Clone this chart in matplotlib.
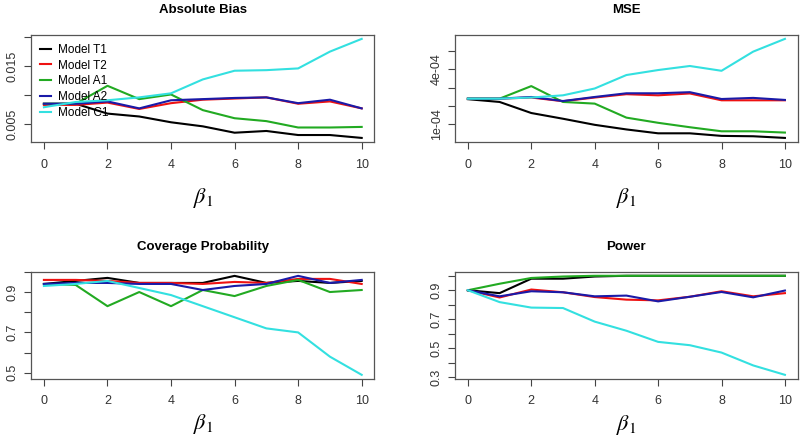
import numpy as np
import matplotlib
matplotlib.use('Agg')
from matplotlib import pyplot as plt

plt.rcParams['font.family'] = ['Liberation Sans Narrow', 'Liberation Sans', 'DejaVu Sans']
plt.rcParams['mathtext.fontset'] = 'stix'

# beta_1 values on the x axis
beta1 = [0, 1, 2, 3, 4, 5, 6, 7, 8, 9, 10]

models = ['Model T1', 'Model T2', 'Model A1', 'Model A2', 'Model C1']
colors = ['black', '#ee1111', '#22aa22', '#1a1aa8', '#33e0e0']

# absolute bias
bias_t1 = [0.0085, 0.0085, 0.0068, 0.0063, 0.0053, 0.0046, 0.0035, 0.0038, 0.0031, 0.0031, 0.0026]
bias_t2 = [0.0083, 0.0083, 0.0087, 0.0076, 0.0086, 0.0092, 0.0094, 0.0096, 0.0085, 0.0089, 0.0077]
bias_a1 = [0.0085, 0.0085, 0.0116, 0.0093, 0.0101, 0.0074, 0.0060, 0.0055, 0.0044, 0.0044, 0.0045]
bias_a2 = [0.0085, 0.0085, 0.0089, 0.0077, 0.0091, 0.0093, 0.0095, 0.0096, 0.0086, 0.0092, 0.0077]
bias_c1 = [0.0079, 0.0088, 0.0091, 0.0096, 0.0103, 0.0127, 0.0142, 0.0143, 0.0146, 0.0175, 0.0197]

# mse (x 1e-4)
mse_t1 = [2.37, 2.22, 1.62, 1.31, 0.98, 0.73, 0.52, 0.52, 0.38, 0.36, 0.27]
mse_t2 = [2.40, 2.40, 2.46, 2.26, 2.46, 2.64, 2.58, 2.68, 2.31, 2.31, 2.31]
mse_a1 = [2.40, 2.40, 3.08, 2.22, 2.13, 1.37, 1.09, 0.85, 0.63, 0.63, 0.56]
mse_a2 = [2.40, 2.40, 2.49, 2.27, 2.49, 2.69, 2.69, 2.75, 2.38, 2.44, 2.33]
mse_c1 = [2.40, 2.40, 2.46, 2.58, 2.95, 3.68, 3.95, 4.17, 3.91, 4.95, 5.64]

# coverage probability
cp_t1 = [0.94, 0.955, 0.97, 0.945, 0.945, 0.945, 0.98, 0.945, 0.955, 0.945, 0.955]
cp_t2 = [0.96, 0.96, 0.955, 0.945, 0.945, 0.94, 0.95, 0.945, 0.965, 0.965, 0.94]
cp_a1 = [0.94, 0.935, 0.83, 0.90, 0.83, 0.91, 0.88, 0.93, 0.96, 0.90, 0.91]
cp_a2 = [0.94, 0.945, 0.945, 0.94, 0.94, 0.91, 0.93, 0.94, 0.98, 0.945, 0.96]
cp_c1 = [0.93, 0.94, 0.955, 0.92, 0.885, 0.83, 0.775, 0.72, 0.70, 0.58, 0.49]

# power
pw_t1 = [0.90, 0.88, 0.98, 0.98, 0.995, 1.0, 1.0, 1.0, 1.0, 1.0, 1.0]
pw_t2 = [0.90, 0.85, 0.905, 0.886, 0.853, 0.835, 0.83, 0.855, 0.893, 0.858, 0.88]
pw_a1 = [0.90, 0.945, 0.985, 0.995, 1.0, 1.0, 1.0, 1.0, 1.0, 1.0, 1.0]
pw_a2 = [0.90, 0.858, 0.893, 0.886, 0.858, 0.863, 0.823, 0.855, 0.888, 0.851, 0.898]
pw_c1 = [0.90, 0.818, 0.78, 0.777, 0.683, 0.62, 0.543, 0.52, 0.469, 0.38, 0.315]

panels = [
    ('Absolute Bias', [bias_t1, bias_t2, bias_a1, bias_a2, bias_c1], 1.0,
     [0.005, 0.010, 0.015, 0.020], ['0.005', '', '0.015', '']),
    ('MSE', [mse_t1, mse_t2, mse_a1, mse_a2, mse_c1], 1e-4,
     [1e-4, 2e-4, 3e-4, 4e-4, 5e-4], ['1e-04', '', '', '4e-04', '']),
    ('Coverage Probability', [cp_t1, cp_t2, cp_a1, cp_a2, cp_c1], 1.0,
     [0.5, 0.6, 0.7, 0.8, 0.9, 1.0], ['0.5', '', '0.7', '', '0.9', '']),
    ('Power', [pw_t1, pw_t2, pw_a1, pw_a2, pw_c1], 1.0,
     [0.3, 0.4, 0.5, 0.6, 0.7, 0.8, 0.9, 1.0], ['0.3', '', '0.5', '', '0.7', '', '0.9', '']),
]

boxes = [[0.039, 0.679, 0.429, 0.242], [0.569, 0.679, 0.428, 0.242],
         [0.039, 0.143, 0.429, 0.242], [0.569, 0.143, 0.428, 0.242]]
label_pads = [11, 11, 3, 4]

fig = plt.figure(figsize=(8, 4.42), dpi=100)

for k, (title, series, scale, yt, ytl) in enumerate(panels):
    ax = fig.add_axes(boxes[k])
    for s, c, m in zip(series, colors, models):
        ax.plot(beta1, np.array(s) * scale, color=c, lw=1.5, label=m)
    ax.margins(x=0.04, y=0.04)
    ax.set_xticks([0, 2, 4, 6, 8, 10])
    ax.set_yticks(yt)
    ax.set_yticklabels(ytl, rotation=90, va='center')
    ax.tick_params(labelsize=9, length=5, width=0.8, color='#444444', labelcolor='#333333', pad=4)
    ax.tick_params(axis='x', pad=7)
    for sp in ax.spines.values():
        sp.set_color('#555555')
        sp.set_linewidth(0.9)
    ax.set_title(title, fontsize=9.5, fontweight='bold', pad=16)
    ax.set_xlabel(r'$\beta_1$', fontsize=16, labelpad=label_pads[k])
    if k == 0:
        leg = ax.legend(loc='upper left', bbox_to_anchor=(0, 1), borderaxespad=0,
                        fontsize=8.5, handlelength=0.9, handletextpad=0.6, labelspacing=0.32,
                        borderpad=0.75, fancybox=False, framealpha=0, edgecolor='black')
        leg.get_frame().set_linewidth(0.8)

plt.savefig('out.png', dpi=100)
